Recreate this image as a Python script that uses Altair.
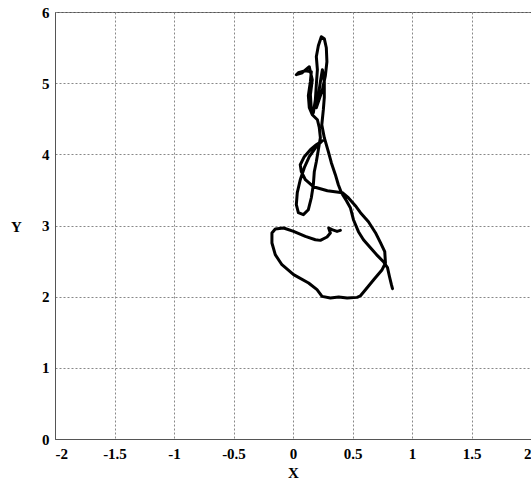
import altair as alt
import pandas as pd

# Trajectory (data units)
xs = [0.398, 0.370, 0.328, 0.300, 0.314, 0.286, 0.230, 0.188, 0.104, 0.005,
      -0.079, -0.149, -0.177, -0.177, -0.149, -0.093, 0.005, 0.131, 0.202, 0.244,
      0.314, 0.384, 0.455, 0.539, 0.567, 0.609, 0.678, 0.749, 0.777,
      0.771, 0.735, 0.693, 0.634, 0.567, 0.524, 0.465, 0.415, 0.289, 0.171,
      0.104, 0.070, 0.061, 0.095, 0.146, 0.196, 0.247,
      0.196, 0.137, 0.095, 0.061, 0.036, 0.028, 0.045, 0.087, 0.129, 0.154,
      0.171, 0.179, 0.196, 0.213, 0.230, 0.221, 0.205,
      0.162, 0.137, 0.129, 0.146, 0.154,
      0.104, 0.045, 0.028, 0.078, 0.137,
      0.162, 0.146, 0.154, 0.171, 0.188, 0.196, 0.205, 0.196, 0.213, 0.238,
      0.263, 0.280, 0.285, 0.272, 0.247, 0.213, 0.196, 0.213, 0.230, 0.247,
      0.263, 0.263, 0.255, 0.242,
      0.263, 0.297, 0.322, 0.356, 0.381, 0.407, 0.449, 0.482, 0.508, 0.550,
      0.592, 0.651, 0.710, 0.760, 0.794, 0.811, 0.827, 0.836]
ys = [2.931, 2.917, 2.941, 2.965, 2.894, 2.838, 2.791, 2.800, 2.847, 2.917,
      2.965, 2.951, 2.894, 2.754, 2.590, 2.449, 2.309, 2.192, 2.098, 2.004,
      1.981, 1.995, 1.981, 1.990, 2.013, 2.098, 2.238, 2.379, 2.473,
      2.632, 2.758, 2.899, 3.053, 3.180, 3.278, 3.390, 3.461, 3.489, 3.545,
      3.643, 3.756, 3.854, 3.967, 4.065, 4.135, 4.191,
      4.107, 3.967, 3.812, 3.643, 3.461, 3.292, 3.180, 3.152, 3.222, 3.390,
      3.573, 3.756, 3.896, 4.065, 4.234, 4.374, 4.486,
      4.557, 4.655, 4.824, 5.020, 5.161,
      5.175, 5.147, 5.119, 5.147, 5.231,
      5.048, 4.838, 4.627, 4.585, 4.767, 4.978, 5.189, 5.372, 5.526, 5.653,
      5.625, 5.498, 5.301, 5.105, 4.908, 4.739, 4.655, 4.824, 5.020, 5.189,
      5.020, 4.796, 4.627, 4.416,
      4.234, 4.037, 3.882, 3.714, 3.573, 3.461, 3.348, 3.250, 3.081, 2.913,
      2.800, 2.688, 2.576, 2.491, 2.407, 2.280, 2.168, 2.112]

x_ticks = [-2, -1.5, -1, -0.5, 0, 0.5, 1, 1.5, 2]
y_ticks = [0, 1, 2, 3, 4, 5, 6]

df = pd.DataFrame({"x": xs, "y": ys, "i": list(range(len(xs)))})

FONT = "Liberation Serif"

chart = alt.Chart(df).mark_line(
    color="black", strokeWidth=3, strokeJoin="round", strokeCap="round"
).encode(
    x=alt.X("x:Q", scale=alt.Scale(domain=[-2, 2], nice=False, zero=False),
            axis=alt.Axis(values=x_ticks, title="X", labelExpr="toString(datum.value)",
                          tickSize=0, labelPadding=14, labelBaseline="middle",
                          titleY=33, titleBaseline="middle")),
    y=alt.Y("y:Q", scale=alt.Scale(domain=[0, 6], nice=False),
            axis=alt.Axis(values=y_ticks, title="Y", labelExpr="toString(datum.value)",
                          tickSize=0, labelPadding=6, labelBaseline="middle",
                          titleAngle=0, titleX=-39, titleY=214,
                          titleAlign="center", titleBaseline="middle")),
    order="i:Q",
).properties(
    width=476, height=427,
    background="white",
    autosize=alt.AutoSizeParams(type="none"),
    padding={"left": 55, "top": 12, "right": 0, "bottom": 43},
).configure_view(
    stroke="#555555", strokeWidth=1
).configure_axis(
    grid=True, gridColor="#888888", gridDash=[2, 2], gridWidth=1, gridOpacity=1,
    domainColor="#555555", domainWidth=1,
    labelFont=FONT, labelFontSize=15, labelFontWeight="bold", labelColor="black",
    titleFont=FONT, titleFontSize=15, titleFontWeight="bold", titleColor="black",
)

chart.save("out.html", embed_options={"renderer": "svg", "actions": False})
